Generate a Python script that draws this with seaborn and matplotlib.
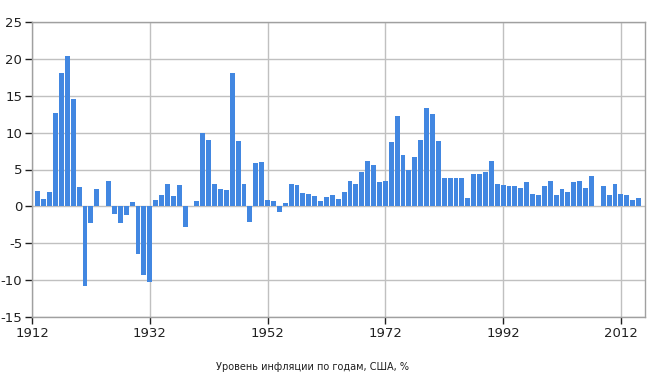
"""US inflation by year, bar chart."""

import matplotlib

matplotlib.use("Agg")
import matplotlib.pyplot as plt
import seaborn as sns

years = list(range(1913, 2016))
inflation = [
    2.1, 1.0, 2.0, 12.6, 18.1, 20.4, 14.5, 2.6, -10.8, -2.3,
    2.4, 0.0, 3.5, -1.1, -2.3, -1.2, 0.6, -6.4, -9.3, -10.3,
    0.8, 1.5, 3.0, 1.4, 2.9, -2.8, 0.0, 0.7, 9.9, 9.0,
    3.0, 2.3, 2.2, 18.1, 8.8, 3.0, -2.1, 5.9, 6.0, 0.8,
    0.7, -0.7, 0.4, 3.0, 2.9, 1.8, 1.7, 1.4, 0.7, 1.3,
    1.6, 1.0, 1.9, 3.5, 3.0, 4.7, 6.2, 5.6, 3.3, 3.4,
    8.7, 12.3, 6.9, 4.9, 6.7, 9.0, 13.3, 12.5, 8.9, 3.8,
    3.8, 3.9, 3.8, 1.1, 4.4, 4.4, 4.6, 6.1, 3.1, 2.9,
    2.7, 2.7, 2.5, 3.3, 1.7, 1.6, 2.7, 3.4, 1.6, 2.4,
    1.9, 3.3, 3.4, 2.5, 4.1, 0.1, 2.7, 1.5, 3.0, 1.7,
    1.5, 0.8, 1.2,
]
x_ticks = [1912, 1932, 1952, 1972, 1992, 2012]
y_ticks = [-15, -10, -5, 0, 5, 10, 15, 20, 25]
title = "Уровень инфляции по годам, США, %"

sns.set_style("white")
plt.rcParams["font.family"] = ["DejaVu Sans"]
plt.rcParams["axes.unicode_minus"] = False

fig = plt.figure(figsize=(6.56, 3.75), dpi=100)
ax = fig.add_axes([0.0488, 0.1547, 0.9345, 0.7866])

sns.barplot(x=years, y=inflation, native_scale=True, width=0.82,
            color="#4287e1", saturation=1, linewidth=0, ax=ax, zorder=3)

ax.set_xlim(1912, 2016.1)
ax.set_ylim(-15, 25)
ax.set_xticks(x_ticks)
ax.set_yticks(y_ticks)
ax.grid(True, color="#c0c0c0", linewidth=1, zorder=0)
ax.set_axisbelow(True)
for spine in ax.spines.values():
    spine.set_color("#a0a0a0")
    spine.set_linewidth(1)
    spine.set_visible(True)
ax.tick_params(axis="both", length=5, width=1, color="#202020",
               labelsize=9.5, labelcolor="#202020", pad=2, direction="out")
ax.tick_params(left=True, bottom=True)

fig.text(0.477, 0.008, title, ha="center", va="bottom", fontsize=7, color="#202020")

fig.savefig("out.png", dpi=100)
